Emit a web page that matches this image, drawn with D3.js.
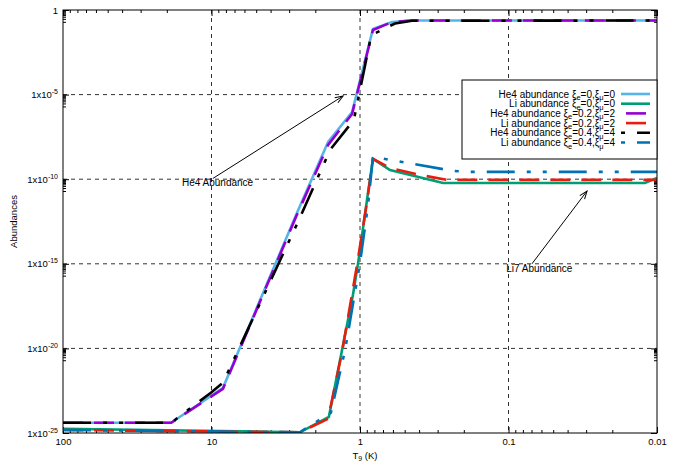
<!DOCTYPE html>
<html>
<head>
<meta charset="utf-8">
<script src="https://cdn.jsdelivr.net/npm/d3@7"></script>
<style>
body { margin: 0; background: #fff; }
text { font-family: "Liberation Sans", Arial, sans-serif; fill: #000; }
</style>
</head>
<body>
<div id="chart"></div>
<script>
// temperatures (T9) and abundances, one pair of arrays per curve
var he4T0 = [100, 18.7, 8.37, 2.66, 1.64, 1.13, 0.818, 0.609, 0.447, 0.01];
var he4A0 = [4.0e-25, 4.0e-25, 4.7e-23, 1.0e-12, 1.6e-8, 9.4e-7, 0.0755, 0.195, 0.24, 0.24];

var liT0 = [100, 2.54, 1.62, 1.32, 1.115, 1.03, 0.897, 0.818, 0.628, 0.276, 0.01205, 0.01];
var liA0 = [1.8e-25, 1.1e-25, 9.1e-25, 8.3e-21, 1.5e-17, 1.1e-15, 6.0e-12, 1.6e-9, 3.5e-10, 6.0e-11, 6.0e-11, 1.2e-10];

var he4T2 = [100, 18.7, 8.37, 2.66, 1.64, 1.13, 0.818, 0.609, 0.447, 0.01];
var he4A2 = [4.0e-25, 4.0e-25, 4.1e-23, 7.8e-13, 1.06e-8, 7.2e-7, 0.066, 0.195, 0.24, 0.24];

var liT2 = [100, 2.54, 1.64, 1.32, 1.047, 0.897, 0.818, 0.628, 0.394, 0.259, 0.01];
var liA2 = [1.5e-25, 1.1e-25, 6.9e-25, 6.3e-21, 8.7e-16, 4.6e-12, 1.6e-9, 4.6e-10, 1.8e-10, 9.1e-11, 9.1e-11];

var he4T4 = [100, 18.7, 10.1, 8.37, 2.54, 1.59, 1.10, 0.84, 0.581, 0.447, 0.01];
var he4A4 = [4.0e-25, 4.0e-25, 2.4e-23, 9.3e-23, 5.2e-13, 5.4e-9, 3.2e-7, 0.033, 0.16, 0.23, 0.24];

var liT4 = [100, 2.54, 1.92, 1.57, 1.26, 1.0, 0.883, 0.818, 0.236, 0.190, 0.01];
var liA4 = [1.5e-25, 1.1e-25, 5.3e-25, 1.6e-24, 8.3e-21, 1.1e-15, 3.0e-12, 2.07e-9, 3.1e-10, 2.7e-10, 2.7e-10];

var xTicks = [100, 10, 1, 0.1, 0.01];
var xTickLabels = ['100', '10', '1', '0.1', '0.01'];
var yTicks = [1, 1e-5, 1e-10, 1e-15, 1e-20, 1e-25];
var yTickExp = ['0', '-5', '-10', '-15', '-20', '-25'];

var series = [
    { sub: ['0', '0'], name: 'He4', T: he4T0, A: he4A0, color: '#56b4e9', dash: null },
    { sub: ['0', '0'], name: 'Li', T: liT0, A: liA0, color: '#009e73', dash: null },
    { sub: ['0.2', '2'], name: 'He4', T: he4T2, A: he4A2, color: '#9400d3', dash: '20,11', legendOffset: 26 },
    { sub: ['0.2', '2'], name: 'Li', T: liT2, A: liA2, color: '#e51e10', dash: '20,11', legendOffset: 26 },
    { sub: ['0.4', '4'], name: 'He4', T: he4T4, A: he4A4, color: '#000000', dash: '28,12,4,12,4,12', legendOffset: 56 },
    { sub: ['0.4', '4'], name: 'Li', T: liT4, A: liA4, color: '#0072b2', dash: '28,12,4,12,4,12', legendOffset: 56 }
];

var W = 682, H = 463;
var margin = { top: 10, right: 25, bottom: 30, left: 63 };
var width = W - margin.left - margin.right;
var height = H - margin.top - margin.bottom;

var x = d3.scaleLog().domain([100, 0.01]).range([0, width]);
var y = d3.scaleLog().domain([1e-25, 1]).range([height, 0]);

var svg = d3.select('#chart').append('svg')
    .attr('width', W)
    .attr('height', H)
    .append('g')
    .attr('transform', 'translate(' + margin.left + ',' + margin.top + ')');

var defs = svg.append('defs');
defs.append('clipPath').attr('id', 'clip')
    .append('rect').attr('width', width).attr('height', height);
defs.append('marker')
    .attr('id', 'head')
    .attr('viewBox', '-10 -5 12 10')
    .attr('markerWidth', 12).attr('markerHeight', 10)
    .attr('markerUnits', 'userSpaceOnUse')
    .attr('refX', 0).attr('refY', 0)
    .attr('orient', 'auto')
    .append('path')
    .attr('d', 'M-8,-3L0,0L-8,3')
    .attr('fill', 'none')
    .attr('stroke', '#000')
    .attr('stroke-width', 1);

// grid
var grid = svg.append('g').attr('stroke', '#333').attr('stroke-width', 1).attr('stroke-dasharray', '4,4');
grid.selectAll('.gx').data([10, 1, 0.1]).enter().append('line')
    .attr('x1', function (d) { return x(d); })
    .attr('x2', function (d) { return x(d); })
    .attr('y1', 0).attr('y2', height);
grid.selectAll('.gy').data([1e-5, 1e-10, 1e-15, 1e-20]).enter().append('line')
    .attr('y1', function (d) { return y(d); })
    .attr('y2', function (d) { return y(d); })
    .attr('x1', 0).attr('x2', width);

// minor ticks
var xMinor = [];
[-2, -1, 0, 1].forEach(function (e) {
    for (var k = 2; k <= 9; k++) xMinor.push(k * Math.pow(10, e));
});
var yMinor = [];
[0, -5, -10, -15, -20].forEach(function (e) {
    for (var k = 2; k <= 9; k++) yMinor.push(k * Math.pow(10, e - 1));
});

function styleAxis(g) {
    g.select('.domain').remove();
    g.selectAll('line').attr('stroke', '#000');
    g.selectAll('text').style('font-size', '9.5px').style('font-family', '"Liberation Sans", Arial, sans-serif');
}

svg.append('g')
    .attr('transform', 'translate(0,' + height + ')')
    .call(d3.axisBottom(x).tickValues(xTicks).tickSizeInner(-6).tickSizeOuter(0).tickPadding(5)
        .tickFormat(function (d, i) { return xTickLabels[i]; }))
    .call(styleAxis);
svg.append('g')
    .attr('transform', 'translate(0,' + height + ')')
    .call(d3.axisBottom(x).tickValues(xMinor).tickSizeInner(-3).tickSizeOuter(0).tickFormat(''))
    .call(styleAxis);
svg.append('g')
    .call(d3.axisTop(x).tickValues(xTicks).tickSizeInner(-6).tickSizeOuter(0).tickFormat(''))
    .call(styleAxis);
svg.append('g')
    .call(d3.axisTop(x).tickValues(xMinor).tickSizeInner(-3).tickSizeOuter(0).tickFormat(''))
    .call(styleAxis);

var yAxis = svg.append('g')
    .call(d3.axisLeft(y).tickValues(yTicks).tickSizeInner(-6).tickSizeOuter(0).tickPadding(5)
        .tickFormat(''))
    .call(styleAxis);
yAxis.selectAll('.tick text').each(function (d, i) {
    var t = d3.select(this);
    if (yTickExp[i] === '0') {
        t.text('1');
        return;
    }
    t.append('tspan').text('1x10');
    t.append('tspan').attr('dy', '-4').style('font-size', '7px').text(yTickExp[i]);
});
svg.append('g')
    .call(d3.axisLeft(y).tickValues(yMinor).tickSizeInner(-3).tickSizeOuter(0).tickFormat(''))
    .call(styleAxis);
svg.append('g')
    .attr('transform', 'translate(' + width + ',0)')
    .call(d3.axisRight(y).tickValues(yTicks).tickSizeInner(-6).tickSizeOuter(0).tickFormat(''))
    .call(styleAxis);
svg.append('g')
    .attr('transform', 'translate(' + width + ',0)')
    .call(d3.axisRight(y).tickValues(yMinor).tickSizeInner(-3).tickSizeOuter(0).tickFormat(''))
    .call(styleAxis);

// curves
var line = d3.line()
    .x(function (d) { return x(d[0]); })
    .y(function (d) { return y(d[1]); });

var curves = svg.append('g').attr('clip-path', 'url(#clip)');
series.forEach(function (s) {
    var pts = s.T.map(function (t, i) { return [t, s.A[i]]; });
    curves.append('path')
        .datum(pts)
        .attr('d', line)
        .attr('fill', 'none')
        .attr('stroke', s.color)
        .attr('stroke-width', 2.6)
        .attr('stroke-dasharray', s.dash);
});

// annotations
function annotate(label, lx, ly, fromT, fromA, toT, toA) {
    svg.append('text')
        .attr('x', x(lx)).attr('y', y(ly))
        .attr('dy', '0.35em')
        .attr('text-anchor', 'middle')
        .style('font-size', '10px')
        .text(label);
    svg.append('line')
        .attr('x1', x(fromT)).attr('y1', y(fromA))
        .attr('x2', x(toT)).attr('y2', y(toA))
        .attr('stroke', '#000').attr('stroke-width', 1)
        .attr('marker-end', 'url(#head)');
}
annotate('He4 Abundance', 9.1, 6e-11, 9.8, 1.1e-10, 1.3, 8.3e-6);
annotate('Li7 Abundance', 0.062, 5e-16, 0.0695, 1e-15, 0.0296, 2e-11);

// border
svg.append('rect')
    .attr('width', width).attr('height', height)
    .attr('fill', 'none').attr('stroke', '#000').attr('stroke-width', 1);

// legend
var lg = svg.append('g').attr('transform', 'translate(' + (462 - margin.left) + ',' + (80 - margin.top) + ')');
var lw = width - (462 - margin.left);
lg.append('rect')
    .attr('width', lw).attr('height', 79)
    .attr('fill', '#fff').attr('stroke', '#000').attr('stroke-width', 1);
series.forEach(function (s, i) {
    var ry = 14 + i * 9.7;
    var t = lg.append('text')
        .attr('x', 153).attr('y', ry)
        .attr('dy', '0.35em')
        .attr('text-anchor', 'end')
        .style('font-size', '10px');
    t.append('tspan').text(s.name + ' abundance \u03be');
    t.append('tspan').attr('dy', 2.5).style('font-size', '7.5px').text('e');
    t.append('tspan').attr('dy', -2.5).text('=' + s.sub[0] + ',\u03be');
    t.append('tspan').attr('dy', 2.5).style('font-size', '7.5px').text('\u03bc');
    t.append('tspan').attr('dy', -2.5).text('=' + s.sub[1]);
    lg.append('line')
        .attr('x1', 159).attr('x2', 188)
        .attr('y1', ry).attr('y2', ry)
        .attr('stroke', s.color)
        .attr('stroke-width', 2.6)
        .attr('stroke-dasharray', s.dash)
        .attr('stroke-dashoffset', s.legendOffset || 0);
});

// axis titles
svg.append('text')
    .attr('transform', 'translate(' + (14 - margin.left) + ',' + (height / 2) + ') rotate(-90)')
    .attr('text-anchor', 'middle')
    .attr('dy', '0.35em')
    .style('font-size', '9.5px')
    .text('Abundances');

var xt = svg.append('text')
    .attr('x', x(1) + 5).attr('y', height + 23)
    .attr('dy', '0.35em')
    .attr('text-anchor', 'middle')
    .style('font-size', '9.5px');
xt.append('tspan').text('T');
xt.append('tspan').attr('dy', 2).style('font-size', '7px').text('9');
xt.append('tspan').attr('dy', -2).text(' (K)');
</script>
</body>
</html>
